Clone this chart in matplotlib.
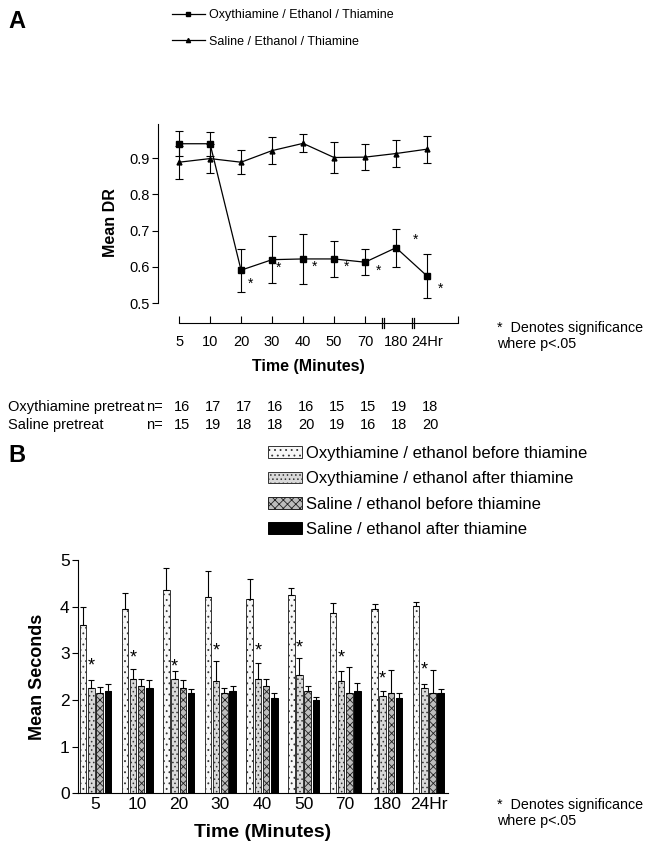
import matplotlib
matplotlib.use("Agg")
import matplotlib.pyplot as plt
import matplotlib.transforms as mtransforms
from matplotlib.patches import Patch
import numpy as np

plt.rcParams['font.family'] = ['Liberation Sans', 'DejaVu Sans']
plt.rcParams['hatch.linewidth'] = 0.6

# ---- panel A data ----
time_labels = ["5", "10", "20", "30", "40", "50", "70", "180", "24Hr"]
oxy_dr = [0.94, 0.94, 0.591, 0.62, 0.622, 0.622, 0.613, 0.653, 0.575]
oxy_err = [0.034, 0.033, 0.059, 0.064, 0.069, 0.05, 0.036, 0.052, 0.06]
sal_dr = [0.889, 0.899, 0.889, 0.921, 0.941, 0.902, 0.903, 0.913, 0.925]
sal_err = [0.045, 0.04, 0.033, 0.038, 0.025, 0.043, 0.035, 0.036, 0.037]
oxy_n = [16, 17, 17, 16, 16, 15, 15, 19, 18]
sal_n = [15, 19, 18, 18, 20, 19, 16, 18, 20]

# ---- panel B data ----
oxy_before = [3.6, 3.94, 4.35, 4.2, 4.16, 4.26, 3.86, 3.95, 4.01]
oxy_before_err = [0.4, 0.36, 0.47, 0.57, 0.43, 0.14, 0.21, 0.11, 0.1]
oxy_after = [2.25, 2.45, 2.45, 2.41, 2.45, 2.54, 2.41, 2.09, 2.25]
oxy_after_err = [0.18, 0.21, 0.17, 0.42, 0.34, 0.37, 0.21, 0.11, 0.09]
sal_before = [2.15, 2.29, 2.25, 2.15, 2.3, 2.2, 2.15, 2.15, 2.15]
sal_before_err = [0.12, 0.16, 0.17, 0.1, 0.16, 0.11, 0.55, 0.49, 0.49]
sal_after = [2.2, 2.25, 2.15, 2.2, 2.05, 2.0, 2.2, 2.05, 2.15]
sal_after_err = [0.14, 0.17, 0.09, 0.11, 0.11, 0.07, 0.16, 0.11, 0.09]
star_b = [2.77, 2.96, 2.76, 3.09, 3.1, 3.16, 2.96, 2.49, 2.7]

W, H = 647, 843
fig = plt.figure(figsize=(W / 100, H / 100), dpi=100)


def fx(px):
    return px / W


def fy(py):
    return 1 - py / H


# ================= Panel A =================
axA = fig.add_axes([fx(158), fy(322.7), fx(458) - fx(158), fy(122) - fy(322.7)])
x = np.arange(len(time_labels))
eb_kw = dict(color="black", lw=0.9, elinewidth=0.8, capsize=3, capthick=0.8)
axA.errorbar(x, oxy_dr, yerr=oxy_err, marker="s", ms=5, **eb_kw)
axA.errorbar(x, sal_dr, yerr=sal_err, marker="^", ms=3.5, **eb_kw)

axA.set_xlim(-0.68, 9)
axA.set_ylim(0.446, 1.0)
for s in ["top", "right"]:
    axA.spines[s].set_visible(False)
axA.spines["left"].set_bounds(0.5, 0.995)
axA.spines["bottom"].set_bounds(0, 9)
axA.set_yticks([0.5, 0.6, 0.7, 0.8, 0.9])
axA.set_yticklabels(["0.5", "0.6", "0.7", "0.8", "0.9"], fontsize=10.5)
axA.tick_params(axis="y", direction="out", length=4, width=0.8, pad=2)
axA.set_xticks([0, 1, 2, 3, 4, 5, 6, 9])
axA.set_xticklabels(time_labels[:7] + [""], fontsize=10.5)
axA.set_xticks([7, 8], minor=True)
axA.set_xticklabels(time_labels[7:], minor=True, fontsize=10.5)
axA.tick_params(axis="x", which="major", direction="in", length=5, width=0.8, pad=9)
axA.tick_params(axis="x", which="minor", direction="in", length=0, pad=9)
axA.set_ylabel("Mean DR", fontsize=11.5, fontweight="bold", labelpad=8)
axA.set_xlabel("Time (Minutes)", fontsize=11.5, fontweight="bold", labelpad=7)

# axis break marks
trans = mtransforms.blended_transform_factory(axA.transData, axA.transAxes)
for bx in [6.58, 7.55]:
    for dx in [-0.04, 0.04]:
        axA.plot([bx + dx, bx + dx], [-0.025, 0.025], color="black", lw=0.9,
                 transform=trans, clip_on=False)

# significance stars
star_offsets = {2: (7, -10), 3: (5, -6), 4: (8, -6), 5: (9, -6), 6: (10, -6),
                7: (14, 6), 8: (10, -9)}
for i, (dx, dy) in star_offsets.items():
    axA.annotate("*", (x[i], oxy_dr[i]), xytext=(dx, dy), textcoords="offset points",
                 ha="center", va="center", fontsize=10)

fig.text(fx(497), fy(336), "*  Denotes significance\nwhere p<.05", fontsize=10.3,
         va="center", ha="left", linespacing=1.15)

# legend A
handles_a = [
    plt.Line2D([], [], color="black", lw=0.9, marker="s", ms=3.5),
    plt.Line2D([], [], color="black", lw=0.9, marker="^", ms=3),
]
fig.legend(handles_a, ["Oxythiamine / Ethanol / Thiamine", "Saline / Ethanol / Thiamine"],
           loc="center left", bbox_to_anchor=(fx(172), fy(28.5)), frameon=False,
           fontsize=9, handlelength=2.6, handletextpad=0.35, labelspacing=1.15,
           borderpad=0, borderaxespad=0)

fig.text(fx(8), fy(21), "A", fontsize=17, fontweight="bold", va="center")

# n rows
ntrans = mtransforms.blended_transform_factory(axA.transData, fig.transFigure)
fig.text(fx(8), fy(407), "Oxythiamine pretreat", fontsize=10.5, va="center")
fig.text(fx(8), fy(425), "Saline pretreat", fontsize=10.5, va="center")
for yy, vals in [(407, oxy_n), (425, sal_n)]:
    fig.text(fx(146), fy(yy), "n=", fontsize=10.5, va="center")
    for i, v in enumerate(vals):
        fig.text(x[i] + 0.1, fy(yy), str(v), fontsize=10.5, va="center", ha="center",
                 transform=ntrans)

# ================= Panel B =================
axB = fig.add_axes([fx(78), fy(793.3), fx(448) - fx(78), fy(560) - fy(793.3)])
bw = 0.156
step = 0.197
err_kw = dict(ecolor="black", elinewidth=0.8, capsize=2, capthick=0.8)
series = [
    (oxy_before, oxy_before_err, dict(facecolor="#f7f7f7", edgecolor="#333333", hatch="..."),
     "Oxythiamine / ethanol before thiamine"),
    (oxy_after, oxy_after_err, dict(facecolor="#d9d9d9", edgecolor="#333333", hatch="...."),
     "Oxythiamine / ethanol after thiamine"),
    (sal_before, sal_before_err, dict(facecolor="#bdbdbd", edgecolor="#222222", hatch="xxxx"),
     "Saline / ethanol before thiamine"),
    (sal_after, sal_after_err, dict(facecolor="black", edgecolor="black"),
     "Saline / ethanol after thiamine"),
]
xb = np.arange(len(time_labels))
handles_b = []
for k, (vals, errs, style, lab) in enumerate(series):
    pos = xb + (k - 1.5) * step
    axB.bar(pos, vals, width=bw, linewidth=0.7, yerr=[np.zeros(len(errs)), errs],
            error_kw=err_kw, **style)
    handles_b.append(Patch(linewidth=0.7, **style))

for i, v in enumerate(star_b):
    axB.text(xb[i] - 0.5 * step, v - 0.05, "*", ha="center", va="center", fontsize=13)

axB.set_xlim(-0.42, 8.47)
axB.set_ylim(0, 5)
for s in ["top", "right"]:
    axB.spines[s].set_visible(False)
axB.set_yticks(range(6))
axB.set_yticklabels([str(v) for v in range(6)], fontsize=12.5)
axB.tick_params(axis="y", direction="out", length=4, width=0.8, pad=2)
axB.set_xticks(xb)
axB.set_xticklabels(time_labels, fontsize=12.5)
axB.tick_params(axis="x", length=0, pad=3)
axB.set_ylabel("Mean Seconds", fontsize=13, fontweight="bold", labelpad=10)
axB.set_xlabel("Time (Minutes)", fontsize=14, fontweight="bold", labelpad=8)

fig.legend(handles_b, [s[3] for s in series], loc="upper left",
           bbox_to_anchor=(fx(268), fy(446)), frameon=False, fontsize=12,
           handlelength=2.05, handleheight=0.7, handletextpad=0.2, labelspacing=0.62,
           borderpad=0, borderaxespad=0)

fig.text(fx(8), fy(455), "B", fontsize=17, fontweight="bold", va="center")
fig.text(fx(497), fy(813), "*  Denotes significance\nwhere p<.05", fontsize=10.3,
         va="center", ha="left", linespacing=1.15)

fig.savefig("out.png", dpi=100)
